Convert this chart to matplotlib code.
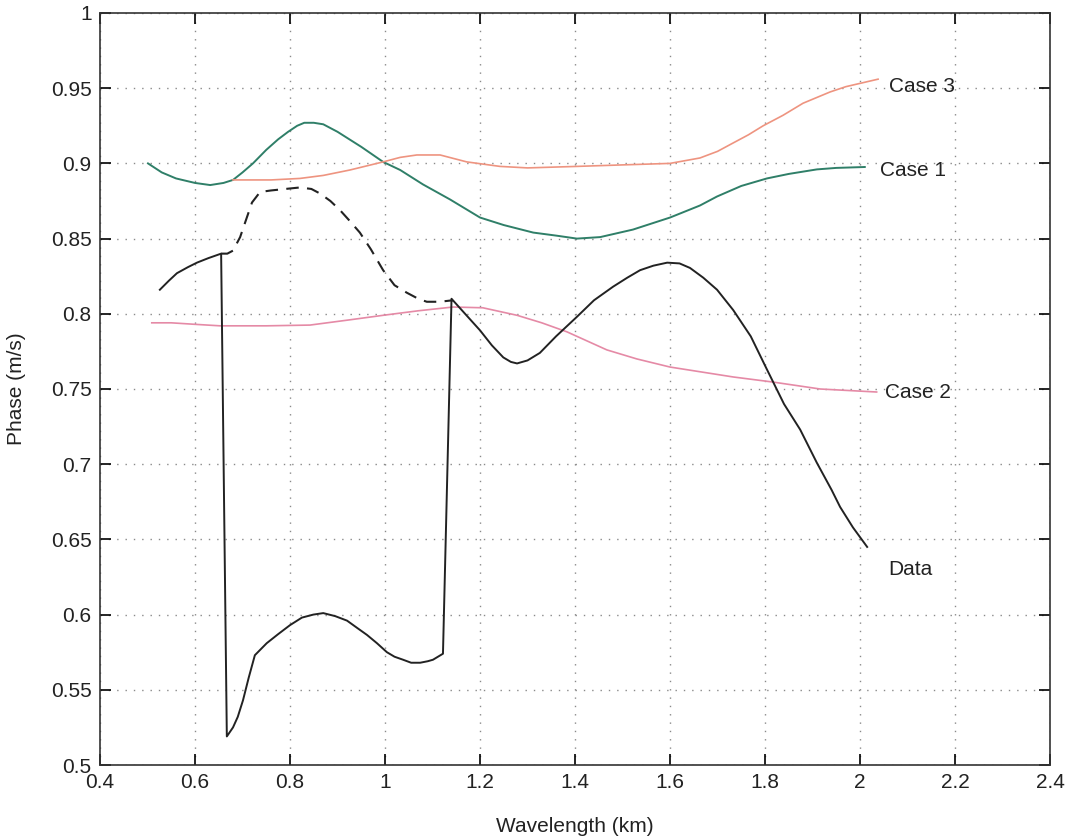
import matplotlib.pyplot as plt

plt.rcParams['font.family'] = ['Liberation Sans', 'DejaVu Sans']

# measured phase curve (solid) and the unwrapped branch (dashed)
data_x = [0.526, 0.545, 0.562, 0.585, 0.604, 0.628, 0.655, 0.667, 0.680, 0.690,
          0.701, 0.713, 0.726, 0.751, 0.775, 0.800, 0.825, 0.849, 0.870, 0.895,
          0.920, 0.942, 0.962, 0.983, 1.004, 1.020, 1.038, 1.055, 1.074, 1.090,
          1.101, 1.122, 1.140, 1.160, 1.180, 1.200, 1.225, 1.249, 1.265, 1.278,
          1.300, 1.326, 1.360, 1.404, 1.440, 1.480, 1.510, 1.537, 1.565, 1.594,
          1.620, 1.642, 1.670, 1.699, 1.733, 1.770, 1.804, 1.840, 1.874, 1.909,
          1.940, 1.958, 1.985, 2.015]
data_y = [0.816, 0.822, 0.827, 0.831, 0.834, 0.837, 0.840, 0.519, 0.525, 0.532,
          0.543, 0.558, 0.573, 0.581, 0.587, 0.593, 0.598, 0.600, 0.601, 0.599,
          0.596, 0.591, 0.5865, 0.581, 0.575, 0.572, 0.570, 0.568, 0.568, 0.569,
          0.570, 0.574, 0.810, 0.803, 0.796, 0.789, 0.779, 0.771, 0.768, 0.767,
          0.769, 0.774, 0.785, 0.798, 0.809, 0.818, 0.824, 0.829, 0.832, 0.834,
          0.8335, 0.8305, 0.824, 0.816, 0.8025, 0.785, 0.763, 0.740, 0.723, 0.701,
          0.683, 0.6716, 0.658, 0.645]

dash_x = [0.655, 0.668, 0.680, 0.695, 0.708, 0.720, 0.737, 0.760, 0.790, 0.821,
          0.845, 0.863, 0.885, 0.905, 0.925, 0.947, 0.970, 0.996, 1.020, 1.046,
          1.070, 1.088, 1.115, 1.143]
dash_y = [0.840, 0.840, 0.842, 0.851, 0.863, 0.874, 0.881, 0.882, 0.883, 0.884,
          0.883, 0.880, 0.875, 0.869, 0.862, 0.854, 0.843, 0.829, 0.819, 0.814,
          0.810, 0.808, 0.808, 0.809]

# model cases
c1_x = [0.501, 0.53, 0.56, 0.60, 0.632, 0.66, 0.68, 0.70, 0.722, 0.75, 0.775,
        0.796, 0.815, 0.83, 0.85, 0.87, 0.90, 0.95, 0.996, 1.032, 1.08, 1.137,
        1.2, 1.25, 1.312, 1.36, 1.404, 1.453, 1.522, 1.6, 1.663, 1.699, 1.75,
        1.804, 1.85, 1.909, 1.95, 2.01]
c1_y = [0.900, 0.894, 0.890, 0.887, 0.8856, 0.887, 0.889, 0.894, 0.900, 0.909,
        0.916, 0.921, 0.925, 0.927, 0.927, 0.926, 0.921, 0.911, 0.901, 0.8956,
        0.886, 0.876, 0.864, 0.859, 0.854, 0.852, 0.850, 0.851, 0.856, 0.864,
        0.872, 0.878, 0.885, 0.890, 0.893, 0.896, 0.897, 0.8976]

c2_x = [0.509, 0.55, 0.60, 0.653, 0.695, 0.75, 0.842, 0.926, 0.996, 1.07, 1.143,
        1.206, 1.278, 1.33, 1.383, 1.467, 1.53, 1.6, 1.733, 1.817, 1.916, 2.035]
c2_y = [0.794, 0.794, 0.793, 0.792, 0.792, 0.792, 0.7925, 0.796, 0.799, 0.802,
        0.8045, 0.804, 0.799, 0.794, 0.788, 0.776, 0.770, 0.7646, 0.758, 0.7546,
        0.750, 0.748]

c3_x = [0.68, 0.72, 0.76, 0.821, 0.87, 0.926, 0.996, 1.032, 1.067, 1.116, 1.172,
        1.242, 1.30, 1.404, 1.50, 1.6, 1.663, 1.70, 1.733, 1.765, 1.796, 1.838,
        1.88, 1.937, 1.97, 2.004, 2.038]
c3_y = [0.889, 0.889, 0.889, 0.890, 0.892, 0.8956, 0.901, 0.904, 0.9056, 0.9056,
        0.901, 0.898, 0.897, 0.898, 0.899, 0.900, 0.9036, 0.908, 0.9136, 0.919,
        0.925, 0.932, 0.940, 0.9475, 0.951, 0.9535, 0.956]

xticks = [0.4, 0.6, 0.8, 1, 1.2, 1.4, 1.6, 1.8, 2, 2.2, 2.4]
yticks = [0.5, 0.55, 0.6, 0.65, 0.7, 0.75, 0.8, 0.85, 0.9, 0.95, 1]

fig = plt.figure(figsize=(10.73, 8.38), dpi=100)
ax = fig.add_axes([0.0932, 0.0871, 0.8854, 0.8974])

ax.plot(c1_x, c1_y, color='#2f7f68', lw=1.4)
ax.plot(c3_x, c3_y, color='#ee9480', lw=1.2)
ax.plot(c2_x, c2_y, color='#e58aa6', lw=1.2)
ax.plot(dash_x, dash_y, color='#222222', lw=1.5, linestyle=(0, (6, 4)))
ax.plot(data_x, data_y, color='#222222', lw=1.4)

ax.text(2.06, 0.951, 'Case 3', fontsize=15, va='center', color='#222222')
ax.text(2.042, 0.8956, 'Case 1', fontsize=15, va='center', color='#222222')
ax.text(2.053, 0.748, 'Case 2', fontsize=15, va='center', color='#222222')
ax.text(2.059, 0.630, 'Data', fontsize=15, va='center', color='#222222')

ax.set_xlim(0.4, 2.4)
ax.set_ylim(0.5, 1)
ax.set_xticks(xticks)
ax.set_xticklabels([f'{t:g}' for t in xticks])
ax.set_yticks(yticks)
ax.set_yticklabels([f'{t:g}' for t in yticks])
ax.tick_params(direction='in', length=8, width=1.2, top=True, right=True,
               labelsize=15, labelcolor='#222222', pad=6)
ax.grid(True, color='#8a8a8a', linestyle=(0, (1, 5)), linewidth=1.0)
for s in ax.spines.values():
    s.set_linewidth(1.2)
    s.set_color('#333333')

ax.set_xlabel('Wavelength (km)', fontsize=15, color='#222222', labelpad=18)
ax.set_ylabel('Phase (m/s)', fontsize=15, color='#222222', labelpad=18)

fig.savefig('out.png', dpi=100)
